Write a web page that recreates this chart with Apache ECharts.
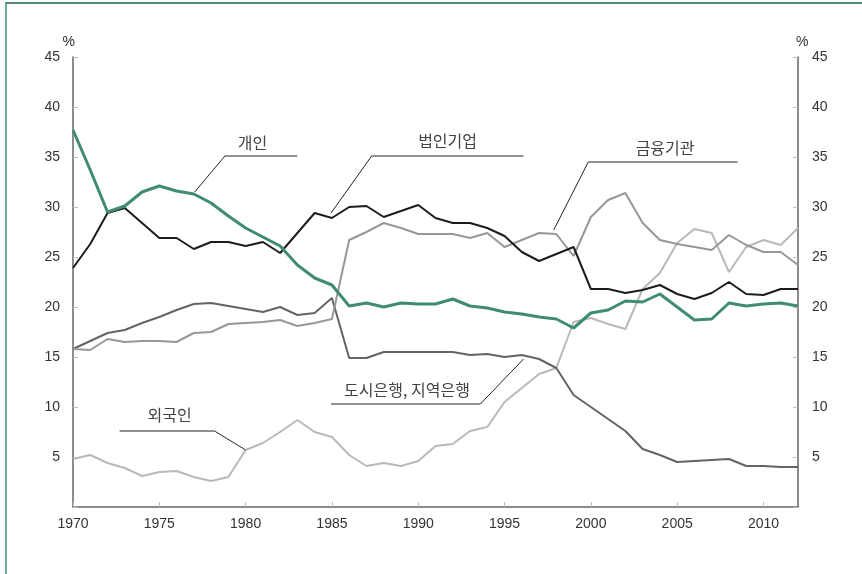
<!DOCTYPE html>
<html>
<head>
<meta charset="utf-8">
<script src="https://cdn.jsdelivr.net/npm/echarts@6/dist/echarts.min.js"></script>
<style>
  html, body { margin: 0; padding: 0; background: #fff; }
  #frame { position: absolute; left: 5px; top: 2px; width: 857px; height: 572px;
    border-left: 2px solid #72ad98; border-top: 2px solid #4f8f78; box-sizing: border-box; }
  #chart { position: absolute; left: 0; top: 0; width: 862px; height: 574px; }
</style>
</head>
<body>
<div id="frame"></div>
<div id="chart"></div>
<script>
// 연도 (1970~2012)
const years = []
for (let y = 1970; y <= 2012; y++) years.push(y)

// 개인
const individuals = [37.7, 33.7, 29.5, 30.1, 31.5, 32.1, 31.6, 31.3, 30.4, 29.1,
  27.9, 27.0, 26.1, 24.2, 22.9, 22.2, 20.1, 20.4, 20.0, 20.4,
  20.3, 20.3, 20.8, 20.1, 19.9, 19.5, 19.3, 19.0, 18.8, 17.9,
  19.4, 19.7, 20.6, 20.5, 21.3, 20.0, 18.7, 18.8, 20.4, 20.1,
  20.3, 20.4, 20.1]

// 법인기업
const corporations = [23.9, 26.3, 29.4, 29.9, 28.4, 26.9, 26.9, 25.8, 26.5, 26.5,
  26.1, 26.5, 25.4, 27.4, 29.4, 28.9, 30.0, 30.1, 29.0, 29.6,
  30.2, 28.9, 28.4, 28.4, 27.9, 27.1, 25.5, 24.6, 25.3, 26.0,
  21.8, 21.8, 21.4, 21.7, 22.2, 21.3, 20.8, 21.4, 22.5, 21.3,
  21.2, 21.8, 21.8]

// 금융기관
const financial = [15.8, 15.7, 16.8, 16.5, 16.6, 16.6, 16.5, 17.4, 17.5, 18.3,
  18.4, 18.5, 18.7, 18.1, 18.4, 18.8, 26.7, 27.5, 28.4, 27.9,
  27.3, 27.3, 27.3, 26.9, 27.4, 26.0, 26.7, 27.4, 27.3, 25.1,
  29.0, 30.7, 31.4, 28.4, 26.7, 26.3, 26.0, 25.7, 27.2, 26.2,
  25.5, 25.5, 24.2]

// 도시은행, 지역은행
const banks = [15.8, 16.6, 17.4, 17.7, 18.4, 19.0, 19.7, 20.3, 20.4, 20.1,
  19.8, 19.5, 20.0, 19.2, 19.4, 20.9, 14.9, 14.9, 15.5, 15.5,
  15.5, 15.5, 15.5, 15.2, 15.3, 15.0, 15.2, 14.8, 13.9, 11.2,
  10.0, 8.8, 7.6, 5.8, 5.2, 4.5, 4.6, 4.7, 4.8, 4.1,
  4.1, 4.0, 4.0]

// 외국인
const foreigners = [4.8, 5.2, 4.4, 3.9, 3.1, 3.5, 3.6, 3.0, 2.6, 3.0,
  5.7, 6.4, 7.5, 8.7, 7.5, 7.0, 5.2, 4.1, 4.4, 4.1,
  4.6, 6.1, 6.3, 7.6, 8.0, 10.5, 11.9, 13.3, 13.9, 18.5,
  18.9, 18.3, 17.8, 21.8, 23.4, 26.4, 27.8, 27.4, 23.5, 26.0,
  26.7, 26.2, 27.9]

// 주석 (데이터 좌표: [연도, %])
const labelNames = ['개인', '법인기업', '금융기관', '도시은행, 지역은행', '외국인']
const labelAt = [[1980.4, 36.4], [1991.7, 36.6], [2004.3, 35.9], [1989.35, 11.7], [1975.6, 9.2]]
const leaders = [
  [[1983.0, 35.1], [1978.8, 35.1], [1977.05, 31.5]],
  [[1996.1, 35.1], [1987.3, 35.1], [1984.95, 29.4]],
  [[2008.5, 34.5], [1999.85, 34.5], [1997.85, 27.7]],
  [[1984.95, 10.3], [1993.6, 10.3], [1996.1, 14.8]],
  [[1972.7, 7.6], [1978.2, 7.6], [1980.0, 5.7]]
]

const pair = arr => arr.map((v, i) => [years[i], v])

const chart = echarts.init(document.getElementById('chart'))

const axisFont = { fontFamily: 'Liberation Sans, Arial, sans-serif', fontSize: 14, color: '#333' }

const yAxisCommon = {
  type: 'value',
  min: 0,
  max: 45,
  interval: 5,
  splitLine: { show: false },
  axisLine: { show: true, lineStyle: { color: '#666', width: 1.5 } },
  axisTick: { show: true, inside: true, length: 5, lineStyle: { color: '#bbb' } },
  name: '%',
  nameGap: 8,
  nameTextStyle: axisFont
}

const lineSeries = (name, data, color, width, z) => ({
  name,
  type: 'line',
  data: pair(data),
  symbol: 'none',
  z,
  lineStyle: { color, width },
  itemStyle: { color }
})

chart.setOption({
  animation: false,
  grid: { left: 73, right: 64, top: 57, bottom: 67 },
  xAxis: {
    type: 'value',
    min: 1970,
    max: 2012,
    interval: 5,
    splitLine: { show: false },
    axisLine: { lineStyle: { color: '#666', width: 1.5 } },
    axisTick: { show: true, inside: true, length: 5, lineStyle: { color: '#bbb' } },
    axisLabel: { ...axisFont, margin: 10, showMaxLabel: false, formatter: v => v % 5 === 0 ? String(v) : '' }
  },
  yAxis: [
    {
      ...yAxisCommon,
      position: 'left',
      nameTextStyle: { ...axisFont, align: 'right', padding: [0, -2, 0, 0] },
      axisLabel: { ...axisFont, margin: 13, formatter: v => v === 0 ? '' : String(v) }
    },
    {
      ...yAxisCommon,
      position: 'right',
      nameTextStyle: { ...axisFont, align: 'left', padding: [0, 0, 0, -2] },
      axisLabel: { ...axisFont, margin: 14, formatter: v => v === 0 ? '' : String(v) }
    }
  ],
  series: [
    lineSeries('외국인', foreigners, '#b9b9b9', 2, 2),
    lineSeries('도시은행, 지역은행', banks, '#646464', 2, 3),
    lineSeries('금융기관', financial, '#979797', 2, 4),
    lineSeries('법인기업', corporations, '#1c1c1c', 2, 5),
    lineSeries('개인', individuals, '#3f8c6f', 3, 6)
  ]
})

// 주석 그리기
const toPx = p => chart.convertToPixel({ gridIndex: 0 }, p)
const graphics = []
leaders.forEach(pts => {
  graphics.push({
    type: 'polyline',
    shape: { points: pts.map(toPx) },
    style: { stroke: '#222', lineWidth: 1, fill: null },
    z: 10
  })
})
labelNames.forEach((name, i) => {
  const [x, y] = toPx(labelAt[i])
  graphics.push({
    type: 'text',
    x, y,
    style: {
      text: name,
      font: '16px "Noto Sans CJK KR", sans-serif',
      fill: '#444',
      align: 'center',
      verticalAlign: 'middle'
    },
    z: 10
  })
})
chart.setOption({ graphic: graphics })
</script>
</body>
</html>
